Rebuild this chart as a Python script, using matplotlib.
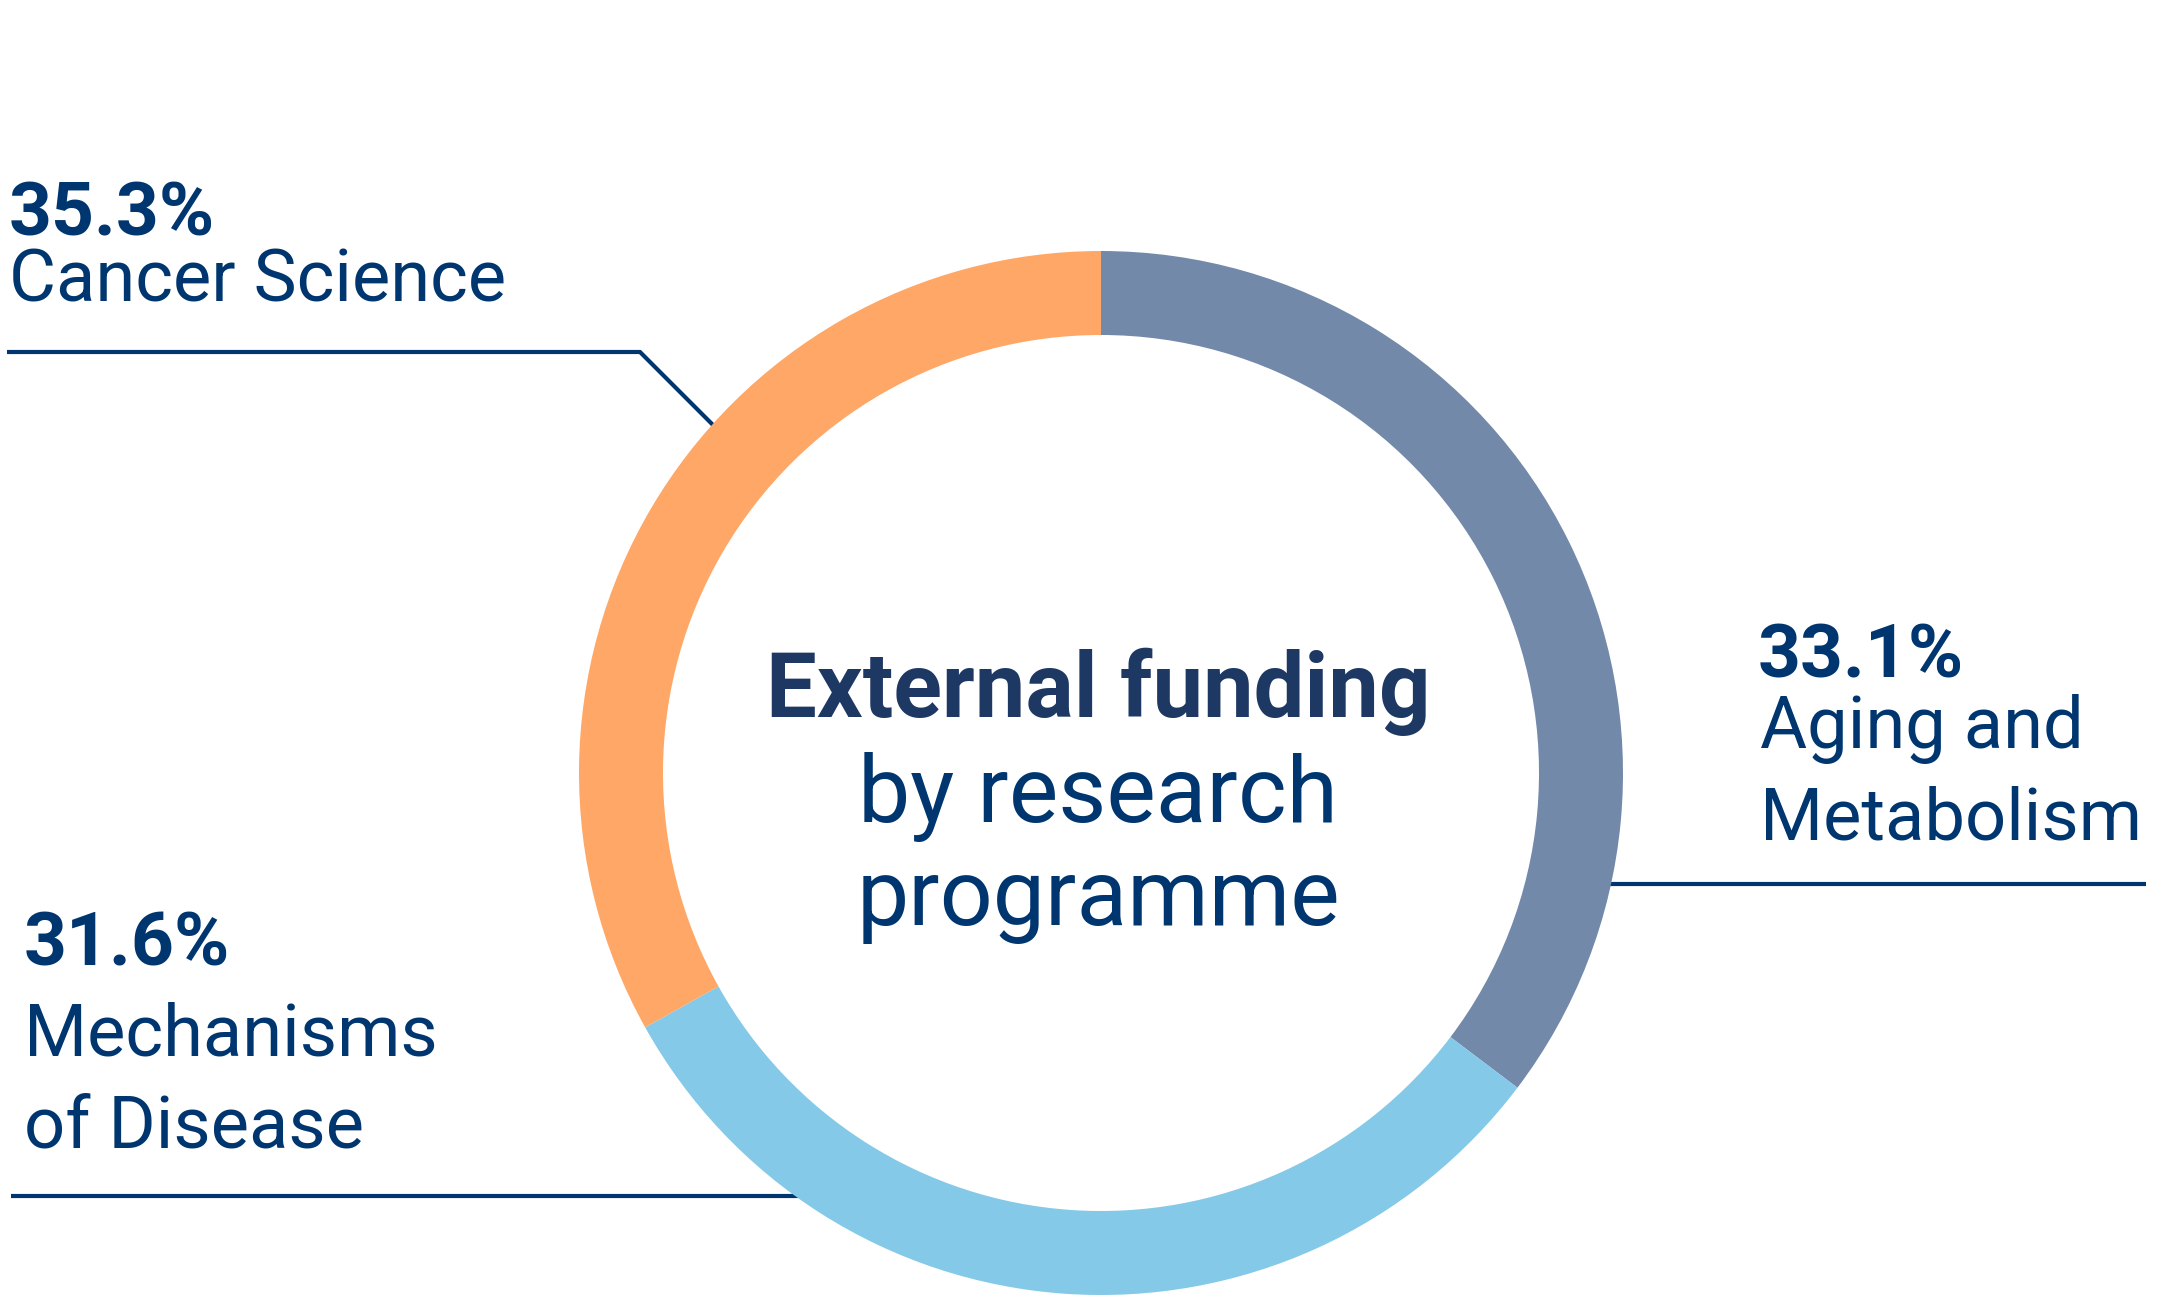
import matplotlib
matplotlib.use('Agg')
import matplotlib.pyplot as plt

W, H = 2167, 1305

# wedge order as drawn, clockwise from 12 o'clock
wedge_shares = [35.3, 31.6, 33.1]
wedge_colors = ['#7289AA', '#85C9E8', '#FFA766']

# labels as printed next to the ring
label_pcts = ['35.3%', '33.1%', '31.6%']
label_names = ['Cancer Science', 'Aging and\nMetabolism', 'Mechanisms\nof Disease']

title_bold = 'External funding'
title_rest = ['by research', 'programme']

navy = '#00366F'
title_navy = '#1E3864'


def Y(y):
    # picture rows run downwards, matplotlib upwards
    return H - y


fig = plt.figure(figsize=(W / 100, H / 100), dpi=100)
ax = fig.add_axes([0, 0, 1, 1])

cx, cy = 1101, 773
r_out, ring = 522, 84

# leader lines (under the ring)
ax.plot([7, 640, 720], [Y(352), Y(352), Y(432)], color=navy, lw=3, zorder=1,
        solid_capstyle='butt', solid_joinstyle='miter')
ax.plot([1590, 2146], [Y(884), Y(884)], color=navy, lw=3, zorder=1, solid_capstyle='butt')
ax.plot([11, 815], [Y(1196), Y(1196)], color=navy, lw=3, zorder=1, solid_capstyle='butt')

ax.pie(wedge_shares, colors=wedge_colors, startangle=90, counterclock=False,
       center=(cx, Y(cy)), radius=r_out,
       wedgeprops=dict(width=ring, linewidth=0, zorder=2))

pct_font = dict(family='Roboto', weight='bold', size=54, color=navy)
name_font = dict(family='Roboto', size=52, color=navy)

# Cancer Science
ax.text(9, Y(235), label_pcts[0], ha='left', va='baseline', **pct_font)
ax.text(9, Y(302), label_names[0], ha='left', va='baseline', **name_font)

# Aging and Metabolism
ax.text(1758, Y(678), label_pcts[1], ha='left', va='baseline', **pct_font)
lines = label_names[1].split('\n')
ax.text(1760, Y(748), lines[0], ha='left', va='baseline', **name_font)
ax.text(1760, Y(839), lines[1], ha='left', va='baseline', **name_font)

# Mechanisms of Disease
ax.text(24, Y(965), label_pcts[2], ha='left', va='baseline', **pct_font)
lines = label_names[2].split('\n')
ax.text(24, Y(1056), lines[0], ha='left', va='baseline', **name_font)
ax.text(24, Y(1147), lines[1], ha='left', va='baseline', **name_font)

# centre text
ax.text(1098, Y(717), title_bold, ha='center', va='baseline',
        family='Roboto', weight='bold', size=65, color=title_navy)
ax.text(1098, Y(822), title_rest[0], ha='center', va='baseline',
        family='Roboto', size=67, color=navy)
ax.text(1098, Y(925), title_rest[1], ha='center', va='baseline',
        family='Roboto', size=67, color=navy)

ax.set_xlim(0, W)
ax.set_ylim(0, H)
ax.set_aspect('equal')
ax.axis('off')

fig.savefig('out.png', dpi=100, facecolor='white')
